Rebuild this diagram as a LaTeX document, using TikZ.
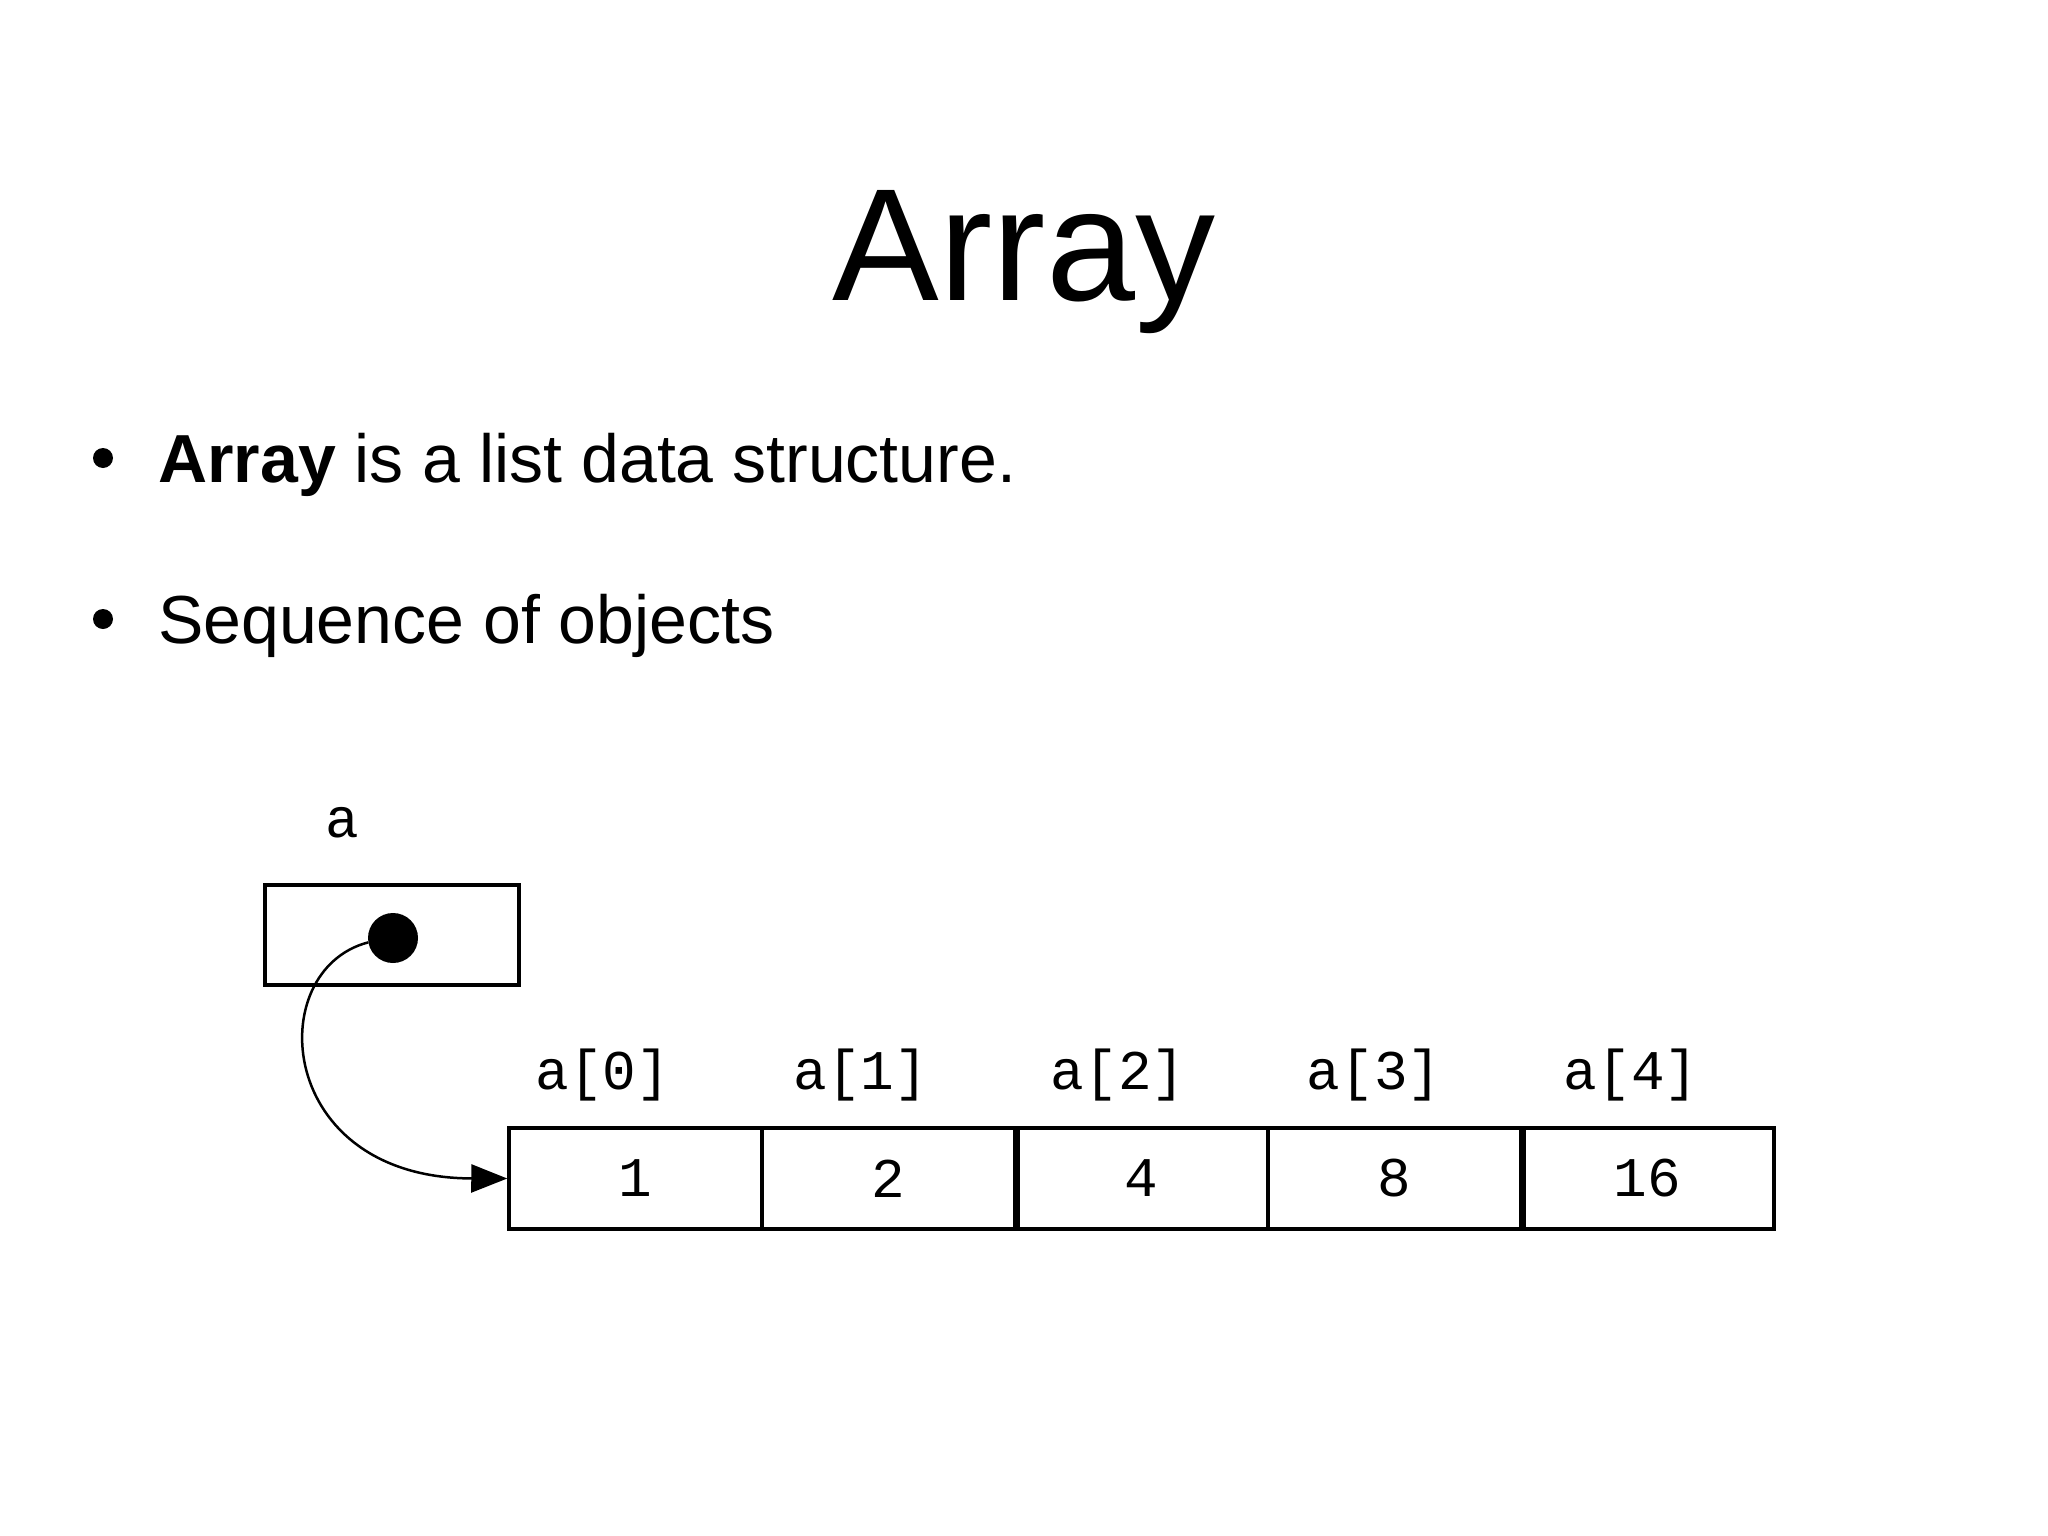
\documentclass[tikz,border=0pt]{standalone}
\usepackage{fontspec}
\setmainfont{Liberation Sans}
\newfontfamily\monof{Liberation Mono}
\usetikzlibrary{arrows.meta}
\tikzset{
  cell/.style={draw, line width=3.5pt, minimum width=253pt, minimum height=101pt, inner sep=0pt, font=\monof\fontsize{56}{56}\selectfont},
  idx/.style={inner sep=0pt, font=\monof\fontsize{56}{56}\selectfont},
  bul/.style={anchor=base west, inner sep=0pt, font=\fontsize{68}{68}\selectfont},
  bdot/.style={fill=black, circle, minimum size=20pt, inner sep=0pt},
  conn/.style={line width=2.5pt, -{Triangle[length=36pt,width=28pt]}}
}
\begin{document}
\begin{tikzpicture}[x=1pt,y=-1pt]
\useasboundingbox (0,0) rectangle (2048,1536);
% title
\node[anchor=base, inner sep=0pt, font=\fontsize{160}{160}\selectfont] (title) at (1024,300) {Array};
% bullets
\node[bdot] (b1) at (103,458) {};
\node[bul] (t1) at (158,482) {\textbf{Array} is a list data structure.};
\node[bdot] (b2) at (103,619) {};
\node[bul] (t2) at (158,643) {Sequence of objects};
% pointer box
\node[idx] (alabel) at (342,823) {a};
\node[draw, line width=3.5pt, minimum width=254pt, minimum height=100pt, inner sep=0pt] (abox) at (392,935) {};
\node[fill=black, circle, minimum size=50pt, inner sep=0pt] (dot) at (393,938) {};
% array cells
\node[cell] (c0) at (635.5,1178.5) {1};
\node[cell] (c1) at (888.5,1178.5) {2};
\node[cell] (c2) at (1141.5,1178.5) {4};
\node[cell] (c3) at (1394.5,1178.5) {8};
\node[cell] (c4) at (1647.5,1178.5) {16};
\draw[line width=7pt] (c1.north east) -- (c1.south east);
\draw[line width=7pt] (c3.north east) -- (c3.south east);
% index labels
\node[idx] (l0) at (603,1075) {a[0]};
\node[idx] (l1) at (861,1075) {a[1]};
\node[idx] (l2) at (1118,1075) {a[2]};
\node[idx] (l3) at (1374,1075) {a[3]};
\node[idx] (l4) at (1631,1075) {a[4]};
% pointer
\draw[conn] (dot.190) .. controls (262,970) and (275,1178) .. (c0.west);
\end{tikzpicture}
\end{document}
